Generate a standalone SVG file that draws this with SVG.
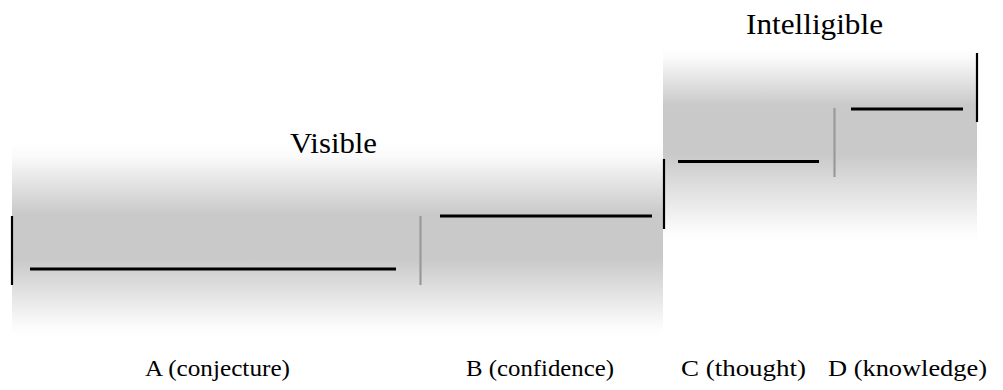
<svg xmlns="http://www.w3.org/2000/svg" width="1003" height="390" viewBox="0 0 1003 390">
<style>
  .lbl { font-family: "Liberation Serif", "DejaVu Serif", serif; fill: #000; }
  .big { font-size: 30px; }
  .small { font-size: 23px; }
  .seg { stroke: #000; stroke-width: 3.2; fill: none; }
  .div { stroke: #000; stroke-width: 2.2; fill: none; }
  .gdiv { stroke: #999; stroke-width: 2.2; fill: none; }
</style>
<defs>
  <linearGradient id="shadeL" x1="0" y1="0" x2="0" y2="1">
    <stop offset="0" stop-color="#ffffff"/>
    <stop offset="0.07" stop-color="#fbfbfb"/>
    <stop offset="0.37" stop-color="#c9c9c9"/>
    <stop offset="0.6" stop-color="#c9c9c9"/>
    <stop offset="0.95" stop-color="#fcfcfc"/>
    <stop offset="1" stop-color="#ffffff"/>
  </linearGradient>
  <linearGradient id="shadeR" x1="0" y1="0" x2="0" y2="1">
    <stop offset="0" stop-color="#ffffff"/>
    <stop offset="0.05" stop-color="#fbfbfb"/>
    <stop offset="0.3" stop-color="#c9c9c9"/>
    <stop offset="0.55" stop-color="#c9c9c9"/>
    <stop offset="0.95" stop-color="#fcfcfc"/>
    <stop offset="1" stop-color="#ffffff"/>
  </linearGradient>
</defs>
<rect width="1003" height="390" fill="#fff"/>
<g id="visible-region">
  <rect x="12" y="142" width="651" height="195" fill="url(#shadeL)"/>
  <text class="lbl big" x="290" y="153" textLength="87" lengthAdjust="spacingAndGlyphs">Visible</text>
</g>
<g id="intelligible-region">
  <rect x="663" y="47" width="314" height="195" fill="url(#shadeR)"/>
  <text class="lbl big" x="746" y="34" textLength="137" lengthAdjust="spacingAndGlyphs">Intelligible</text>
</g>
<g id="connectors">
  <line class="div" x1="12" y1="216" x2="12" y2="285"/>
  <line class="gdiv" x1="420.5" y1="216" x2="420.5" y2="285"/>
  <line class="div" x1="664" y1="159" x2="664" y2="229"/>
  <line class="gdiv" x1="834.5" y1="108" x2="834.5" y2="177"/>
  <line class="div" x1="977" y1="53" x2="977" y2="122"/>
</g>
<g id="segment-A">
  <line class="seg" x1="30" y1="269" x2="396" y2="269"/>
  <text class="lbl small" x="145" y="376" textLength="145" lengthAdjust="spacingAndGlyphs">A (conjecture)</text>
</g>
<g id="segment-B">
  <line class="seg" x1="440" y1="216" x2="652" y2="216"/>
  <text class="lbl small" x="466" y="376" textLength="148" lengthAdjust="spacingAndGlyphs">B (confidence)</text>
</g>
<g id="segment-C">
  <line class="seg" x1="678" y1="161.5" x2="819" y2="161.5"/>
  <text class="lbl small" x="681" y="376" textLength="125" lengthAdjust="spacingAndGlyphs">C (thought)</text>
</g>
<g id="segment-D">
  <line class="seg" x1="851" y1="109" x2="963" y2="109"/>
  <text class="lbl small" x="828" y="376" textLength="159" lengthAdjust="spacingAndGlyphs">D (knowledge)</text>
</g>
</svg>
